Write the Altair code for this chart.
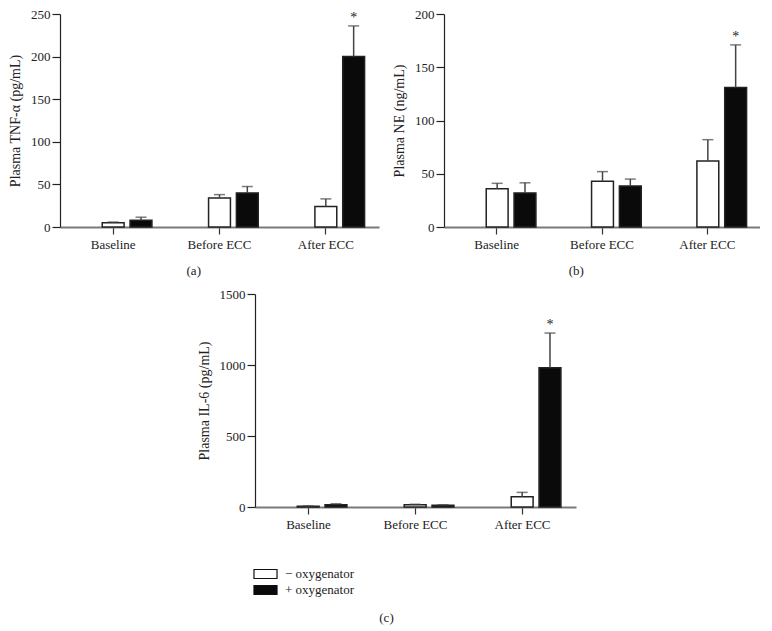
import altair as alt
import pandas as pd

FONT = "Liberation Serif"

categories = ["Baseline", "Before ECC", "After ECC"]
groups = ["− oxygenator", "+ oxygenator"]
significant_plus = [False, False, True]

# Panel (a): Plasma TNF-alpha (pg/mL)
tnf_minus = [5, 34, 24]
tnf_minus_err = [0.8, 4, 9]
tnf_plus = [8, 40, 200]
tnf_plus_err = [3.5, 7.5, 36]

# Panel (b): Plasma NE (ng/mL)
ne_minus = [36, 43, 62]
ne_minus_err = [5, 9, 20]
ne_plus = [32, 38.5, 131]
ne_plus_err = [9.5, 6.5, 40]

# Panel (c): Plasma IL-6 (pg/mL)
il6_minus = [5, 15, 73]
il6_minus_err = [3, 4, 30]
il6_plus = [15, 12, 980]
il6_plus_err = [8, 4, 245]


def build_df(minus, minus_err, plus, plus_err):
    rows = []
    for i, c in enumerate(categories):
        rows.append({"cat": c, "group": groups[0], "value": minus[i],
                     "upper": minus[i] + minus_err[i], "star": False})
        rows.append({"cat": c, "group": groups[1], "value": plus[i],
                     "upper": plus[i] + plus_err[i], "star": significant_plus[i]})
    return pd.DataFrame(rows)


def panel(df, ymax, ystep, ytitle, label, width, show_legend=False, title_offset=14):
    base = alt.Chart(df)
    x = alt.X("cat:N", sort=categories,
              scale=alt.Scale(domain=categories, paddingInner=0, paddingOuter=0),
              axis=alt.Axis(title=None, labelAngle=0, labelFont=FONT, labelFontSize=13,
                            labelColor="#222", domainColor="#7a7a7a", domainWidth=2,
                            tickColor="#333", tickSize=7, tickWidth=1.2, labelPadding=4))
    xo = alt.XOffset("group:N",
                     scale=alt.Scale(domain=["pad"] + groups, paddingInner=0.214, paddingOuter=0.518))
    y = alt.Y("value:Q", scale=alt.Scale(domain=[0, ymax], nice=False),
              axis=alt.Axis(title=ytitle, values=list(range(0, ymax + 1, ystep)), grid=False,
                            format="d",
                            labelFont=FONT, labelFontSize=13, labelColor="#222",
                            titleFont=FONT, titleFontSize=14, titleFontWeight="normal",
                            titleColor="#222", titlePadding=8, domainColor="#222",
                            domainWidth=1.2, tickColor="#222", tickSize=8, tickWidth=1.2,
                            labelPadding=2))
    if show_legend:
        legend = alt.Legend(orient="none", legendX=1.5, legendY=271, title=None,
                            symbolType="M-1.44,-0.56H1.44V0.56H-1.44Z", symbolSize=256,
                            symbolStrokeColor="#111", symbolStrokeWidth=1.2,
                            labelFont=FONT, labelFontSize=13, labelColor="#222",
                            labelOffset=10.5, rowPadding=0)
    else:
        legend = None
    fill = alt.Fill("group:N", scale=alt.Scale(domain=groups, range=["white", "#0a0a0a"]),
                    legend=legend)
    bars = base.mark_bar(stroke="#222", strokeWidth=1.5).encode(x=x, xOffset=xo, y=y, fill=fill)
    rules = base.mark_rule(color="#444", strokeWidth=1.5).encode(
        x=x, xOffset=xo, y="value:Q", y2="upper:Q")
    caps = base.mark_tick(color="#444", thickness=1.5, size=11, orient="horizontal").encode(
        x=x, xOffset=xo, y="upper:Q")
    stars = base.transform_filter("datum.star").mark_text(
        text="*", font=FONT, fontSize=14, color="#222", baseline="middle", dy=-8).encode(
        x=x, xOffset=xo, y="upper:Q")
    return alt.layer(bars, rules, caps, stars).properties(
        width=width, height=213,
        title=alt.TitleParams(text=label, orient="bottom", anchor="middle", frame="bounds",
                              offset=title_offset, font=FONT, fontSize=13,
                              fontWeight="normal", color="#222"))


pa = panel(build_df(tnf_minus, tnf_minus_err, tnf_plus, tnf_plus_err),
           250, 50, "Plasma TNF-α (pg/mL)", "(a)", 319)
pb = panel(build_df(ne_minus, ne_minus_err, ne_plus, ne_plus_err),
           200, 50, "Plasma NE (ng/mL)", "(b)", 316)
pc = panel(build_df(il6_minus, il6_minus_err, il6_plus, il6_plus_err),
           1500, 500, "Plasma IL-6 (pg/mL)", "(c)", 321, show_legend=True, title_offset=15)

spacer = alt.Chart(pd.DataFrame({"s": [0]})).mark_point(opacity=0, size=0).encode(
    x=alt.value(0), y=alt.value(0)).properties(width=137, height=213)

row1 = alt.hconcat(pa, pb, spacing=13).resolve_scale(
    x="independent", y="independent", fill="independent").resolve_legend(fill="independent")
row2 = alt.hconcat(spacer, pc, spacing=0).resolve_scale(
    x="independent", y="independent", fill="independent").resolve_legend(fill="independent")

chart = alt.vconcat(row1, row2, spacing=10).resolve_scale(
    x="independent", y="independent", fill="independent").resolve_legend(
    fill="independent").properties(padding=0).configure_view(stroke=None)

chart.save("out.html", embed_options={"renderer": "svg", "actions": False})
